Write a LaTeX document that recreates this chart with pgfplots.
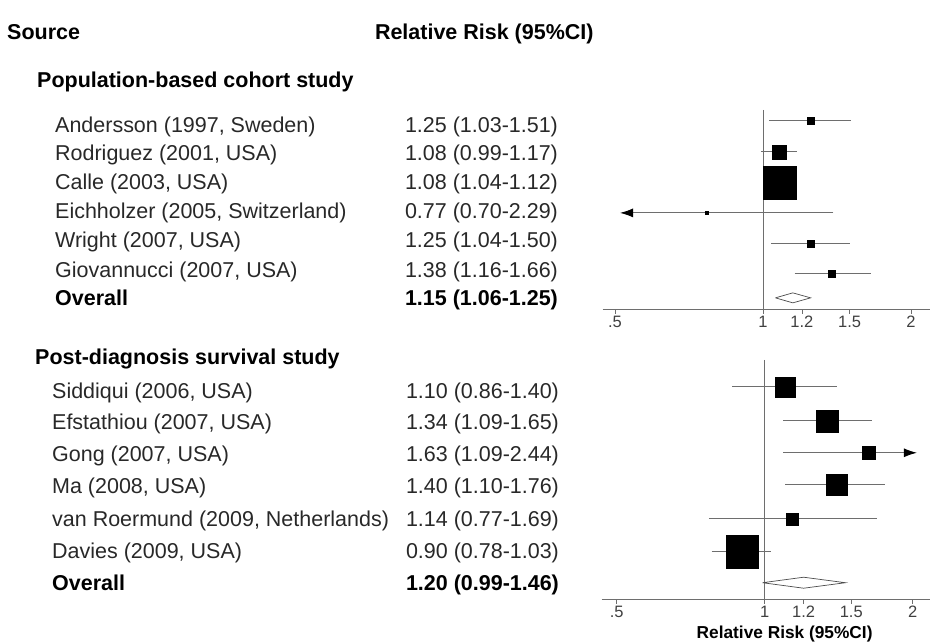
\documentclass[border=0pt]{standalone}
\usepackage{pgfplots}
\pgfplotsset{compat=1.18}
\usepackage{fontspec}
\setmainfont{Liberation Sans}
\usetikzlibrary{arrows.meta}
\definecolor{txt}{RGB}{40,40,40}
\definecolor{ln}{RGB}{110,110,110}
\newcommand{\fs}{\fontsize{21.5}{24}\selectfont}
\pgfplotsset{
  every axis/.append style={
    scale only axis, xmode=log, clip=false,
    axis x line*=bottom, axis y line=none,
    axis line style={-, draw=ln, line width=0.9pt},
    xtick={0.5,1,1.2,1.5,2}, xticklabels={.5,1,1.2,1.5,2},
    minor xtick={}, ytick=\empty,
    tick align=outside, major tick length=4pt,
    tick style={draw=ln, line width=0.6pt},
    x tick label style={font=\fontsize{16.5}{18}\selectfont, text=black!75, inner sep=1pt, yshift=-1pt},
    /pgf/number format/assume math mode=true,
    y dir=reverse,
  },
  ci/.style={draw=ln, line width=0.9pt, mark=none},
  arr/.style={ci, -{Latex[length=13pt,width=9pt,color=black]}},
  sq/.style={scatter, only marks, mark=square*,
    scatter/use mapped color={draw=black, fill=black},
    visualization depends on={\thisrow{s} \as \msz},
    scatter/@pre marker code/.append style={/tikz/mark size=\msz, /tikz/line width=0pt}},
}
\begin{document}
\begin{tikzpicture}
\path (0pt,0pt) rectangle (930pt,643pt);
% ---------------- top panel ----------------
\begin{axis}[at={(603pt,333pt)}, anchor=south west,
  width=327pt, height=205pt, xmin=0.472, xmax=2.182, ymin=105, ymax=310]
\addplot[draw=ln, line width=0.9pt] coordinates {(1,110) (1,310)};
\addplot[ci] coordinates {(1.03,121) (1.51,121)};
\addplot[ci] coordinates {(0.99,152) (1.17,152)};
\addplot[ci] coordinates {(1.04,183) (1.12,183)};
\addplot[arr] coordinates {(1.39,213) (0.512,213)};
\addplot[ci] coordinates {(1.04,244) (1.50,244)};
\addplot[ci] coordinates {(1.16,274) (1.66,274)};
\addplot[sq] table {
rr y s
1.25 121 3.5
1.08 152 7
1.08 183 16.5
0.77 213 1.5
1.25 244 3.5
1.38 274 3.5
};
\addplot[draw=black!70, fill=white, line width=0.7pt] coordinates {(1.06,298) (1.15,293) (1.25,298) (1.15,303) (1.06,298)};
\end{axis}
% ---------------- bottom panel ----------------
\begin{axis}[at={(602pt,43pt)}, anchor=south west,
  width=328pt, height=245pt, xmin=0.466, xmax=2.165, ymin=355, ymax=600]
\addplot[draw=ln, line width=0.9pt] coordinates {(1,360) (1,600)};
\addplot[ci] coordinates {(0.86,387) (1.40,387)};
\addplot[ci] coordinates {(1.09,421) (1.65,421)};
\addplot[arr] coordinates {(1.09,453) (2.04,453)};
\addplot[ci] coordinates {(1.10,485) (1.76,485)};
\addplot[ci] coordinates {(0.77,519) (1.69,519)};
\addplot[ci] coordinates {(0.78,552) (1.03,552)};
\addplot[sq] table {
rr y s
1.10 387 10
1.34 421 11
1.63 453 6.5
1.40 485 10.5
1.14 519 6
0.90 552 16.5
};
\addplot[draw=black!70, fill=white, line width=0.7pt] coordinates {(0.99,583) (1.20,577.5) (1.46,583) (1.20,588.5) (0.99,583)};
\end{axis}
% ---------------- text ----------------
\begin{scope}[every node/.style={inner sep=0pt, anchor=base west, text=txt, font=\fs}]
\node[font=\fs\bfseries, text=black] at (7pt,603pt) {Source};
\node[font=\fs\bfseries, text=black] at (375pt,603pt) {Relative Risk (95\%CI)};
\node[font=\fs\bfseries, text=black] at (37pt,555pt) {Population-based cohort study};
\node at (55pt,510pt) {Andersson (1997, Sweden)};
\node at (55pt,482pt) {Rodriguez (2001, USA)};
\node at (55pt,453pt) {Calle (2003, USA)};
\node at (55pt,424pt) {Eichholzer (2005, Switzerland)};
\node at (55pt,395pt) {Wright (2007, USA)};
\node at (55pt,365pt) {Giovannucci (2007, USA)};
\node[font=\fs\bfseries, text=black] at (55pt,337pt) {Overall};
\node at (405pt,510pt) {1.25 (1.03-1.51)};
\node at (405pt,482pt) {1.08 (0.99-1.17)};
\node at (405pt,453pt) {1.08 (1.04-1.12)};
\node at (405pt,424pt) {0.77 (0.70-2.29)};
\node at (405pt,395pt) {1.25 (1.04-1.50)};
\node at (405pt,365pt) {1.38 (1.16-1.66)};
\node[font=\fs\bfseries, text=black] at (405pt,337pt) {1.15 (1.06-1.25)};
\node[font=\fs\bfseries, text=black] at (35pt,278pt) {Post-diagnosis survival study};
\node at (52pt,244pt) {Siddiqui (2006, USA)};
\node at (52pt,213pt) {Efstathiou (2007, USA)};
\node at (52pt,181pt) {Gong (2007, USA)};
\node at (52pt,149pt) {Ma (2008, USA)};
\node at (52pt,116pt) {van Roermund (2009, Netherlands)};
\node at (52pt,84pt) {Davies (2009, USA)};
\node[font=\fs\bfseries, text=black] at (52pt,52pt) {Overall};
\node at (406pt,244pt) {1.10 (0.86-1.40)};
\node at (406pt,213pt) {1.34 (1.09-1.65)};
\node at (406pt,181pt) {1.63 (1.09-2.44)};
\node at (406pt,149pt) {1.40 (1.10-1.76)};
\node at (406pt,116pt) {1.14 (0.77-1.69)};
\node at (406pt,84pt) {0.90 (0.78-1.03)};
\node[font=\fs\bfseries, text=black] at (406pt,52pt) {1.20 (0.99-1.46)};
\node[anchor=base, font=\fontsize{17.3}{19}\selectfont\bfseries, text=black] at (785pt,4pt) {Relative Risk (95\%CI)};
\end{scope}
\end{tikzpicture}
\end{document}
